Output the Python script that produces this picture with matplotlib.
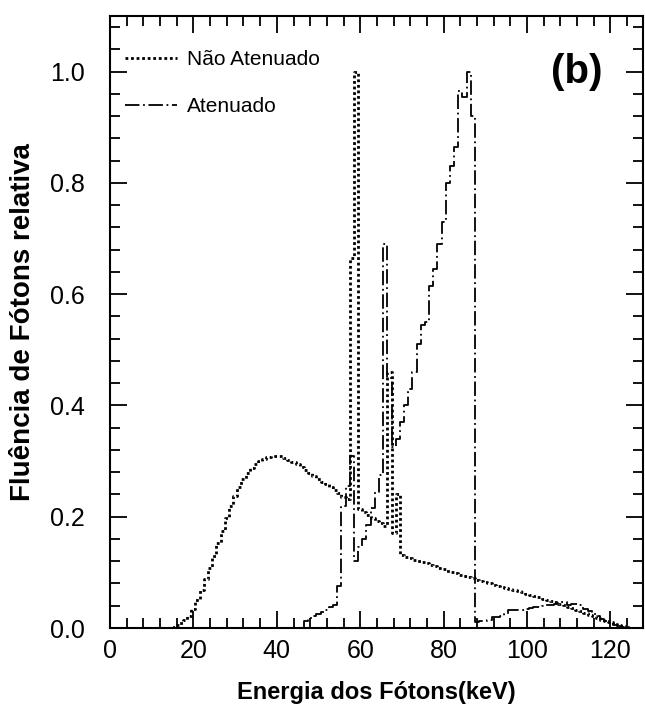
import matplotlib
matplotlib.use('Agg')
import matplotlib.pyplot as plt
from matplotlib.ticker import MultipleLocator

plt.rcParams['font.family'] = ['Liberation Sans', 'DejaVu Sans']

# espectro nao atenuado (bins de 1 keV)
e_nao = list(range(14, 126))
f_nao = [0.0, 0.002, 0.005, 0.009, 0.014, 0.022, 0.034, 0.050, 0.068, 0.088,
         0.108, 0.130, 0.152, 0.175, 0.198, 0.219, 0.238, 0.254, 0.267, 0.278,
         0.287, 0.294, 0.300, 0.304, 0.307, 0.309, 0.310, 0.309, 0.306, 0.302,
         0.298, 0.294, 0.289, 0.284, 0.279, 0.274, 0.268, 0.263, 0.258, 0.253,
         0.248, 0.242, 0.236, 0.231, 0.665, 1.000, 0.213, 0.208, 0.203, 0.198,
         0.193, 0.188, 0.183, 0.460, 0.170, 0.240, 0.132, 0.128, 0.126, 0.123,
         0.121, 0.118, 0.116, 0.113, 0.111, 0.108, 0.106, 0.103, 0.100, 0.098,
         0.095, 0.093, 0.091, 0.089, 0.087, 0.085, 0.083, 0.081, 0.078, 0.076,
         0.074, 0.072, 0.070, 0.068, 0.066, 0.064, 0.062, 0.059, 0.057, 0.055,
         0.053, 0.050, 0.048, 0.046, 0.044, 0.041, 0.038, 0.036, 0.033, 0.030,
         0.027, 0.024, 0.021, 0.018, 0.015, 0.012, 0.010, 0.008, 0.006, 0.004,
         0.002, 0.0]

# espectro atenuado
e_at = list(range(46, 126))
f_at = [0.0, 0.012, 0.018, 0.022, 0.025, 0.029, 0.033, 0.037, 0.042, 0.075,
        0.220, 0.255, 0.310, 0.120, 0.145, 0.160, 0.185, 0.215, 0.245, 0.275,
        0.690, 0.450, 0.325, 0.340, 0.370, 0.400, 0.430, 0.460, 0.510, 0.545,
        0.550, 0.615, 0.645, 0.690, 0.730, 0.800, 0.830, 0.865, 0.965, 0.955,
        1.000, 0.920, 0.011, 0.012, 0.013, 0.014, 0.020, 0.020, 0.022, 0.026,
        0.032, 0.032, 0.033, 0.033, 0.035, 0.036, 0.037, 0.038, 0.039, 0.041,
        0.041, 0.044, 0.047, 0.046, 0.042, 0.043, 0.043, 0.042, 0.035, 0.030,
        0.026, 0.022, 0.017, 0.012, 0.009, 0.006, 0.004, 0.002, 0.001, 0.0]

fig = plt.figure(figsize=(6.45, 7.25), dpi=100)
ax = fig.add_axes([110/645, 1 - 628/725, 533/645, 612/725])

ax.plot(e_nao, f_nao, color='black', lw=2.0, ls=(0, (1, 1)),
        drawstyle='steps-mid', label='Não Atenuado')
ax.plot(e_at, f_at, color='black', lw=1.3, ls=(0, (8, 2, 1, 2)),
        drawstyle='steps-mid', label='Atenuado')

ax.set_xlim(0, 127.8)
ax.set_ylim(0, 1.1)
ax.xaxis.set_major_locator(MultipleLocator(20))
ax.xaxis.set_minor_locator(MultipleLocator(4))
ax.yaxis.set_major_locator(MultipleLocator(0.2))
ax.yaxis.set_minor_locator(MultipleLocator(0.04))
ax.yaxis.set_major_formatter(plt.FormatStrFormatter('%.1f'))

ax.tick_params(which='both', direction='in', top=True, right=True, width=1.3)
ax.tick_params(which='major', length=12, labelsize=18)
ax.tick_params(which='minor', length=7)
ax.tick_params(axis='x', which='major', pad=8)
ax.tick_params(axis='y', which='major', pad=18)
for s in ax.spines.values():
    s.set_linewidth(1.5)

ax.set_xlabel('Energia dos Fótons(keV)', fontsize=17, fontweight='bold', labelpad=13)
ax.set_ylabel('Fluência de Fótons relativa', fontsize=20, fontweight='bold', labelpad=10)

ax.text(118, 1.0, '(b)', fontsize=29, fontweight='bold', ha='right', va='center')

ax.legend(loc='upper left', bbox_to_anchor=(0.012, 0.958), borderaxespad=0,
          frameon=False, fontsize=15, handlelength=2.5,
          handletextpad=0.5, labelspacing=1.35)

fig.savefig('out.png', dpi=100)
